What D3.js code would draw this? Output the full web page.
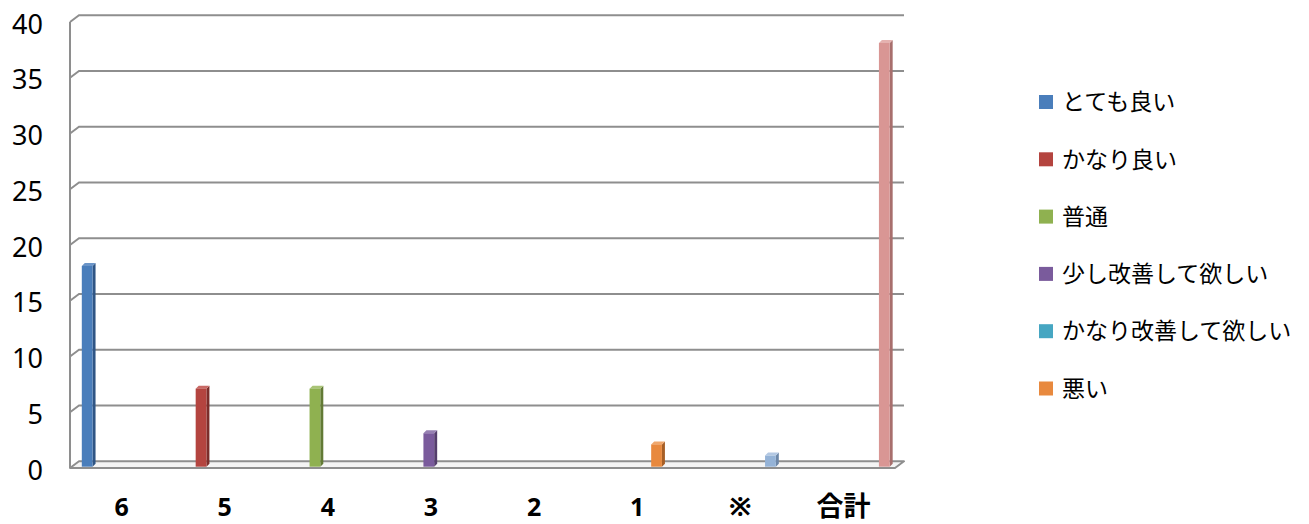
<!DOCTYPE html>
<html>
<head>
<meta charset="utf-8">
<script src="https://cdn.jsdelivr.net/npm/d3@7"></script>
<style>
  html, body { margin: 0; padding: 0; background: #fff; }
  svg { display: block; }
</style>
</head>
<body>
<svg id="chart" width="1309" height="524"></svg>
<script>
// Categories along the floor, one series per category (Excel-style 3D clustered columns)
const categories = ["6", "5", "4", "3", "2", "1", "※", "合計"];
const seriesNames = ["とても良い", "かなり良い", "普通", "少し改善して欲しい", "かなり改善して欲しい", "悪い", "※", "合計"];
const seriesValues = [18, 7, 7, 3, 0, 2, 1, 38];
const legendNames = ["とても良い", "かなり良い", "普通", "少し改善して欲しい", "かなり改善して欲しい", "悪い"];
const yTicks = [0, 5, 10, 15, 20, 25, 30, 35, 40];

const frontColors = ["#4a7ebb", "#b4443f", "#8fb150", "#7a5b9c", "#46a6c2", "#e8893e", "#95b3d7", "#d99694"];
const sideColors  = ["#2f5585", "#7c2d2a", "#627a35", "#543e6c", "#2f7387", "#a75f26", "#6d87a8", "#a86f6d"];
const topColors   = ["#6b95c8", "#c86965", "#a9c476", "#9680b2", "#71bcd2", "#f0a76c", "#b3c8e3", "#e5b2b0"];

const svg = d3.select("#chart");
const font = "'Noto Sans', 'Noto Sans CJK JP', sans-serif";

// Front plane of the plot box and the depth offset of the back wall
const left = 70, right = 895;
const depthX = 9, depthY = -6.7;
const y = d3.scaleLinear().domain([0, 40]).range([468, 22]);
const x0 = d3.scaleBand().domain(categories).range([left, right]).padding(0);
const x1 = d3.scaleBand().domain(seriesNames).range([10, 96]).padding(0);

const gridColor = "#8e8e8e";

// Floor
svg.append("polygon")
  .attr("points", [
    [left, y(0)], [right, y(0)],
    [right + depthX, y(0) + depthY], [left + depthX, y(0) + depthY]
  ].map(p => p.join(",")).join(" "))
  .attr("fill", "#f4f4f4")
  .attr("stroke", gridColor)
  .attr("stroke-width", 2)
  .attr("stroke-linejoin", "round");

// Gridlines on the back wall with the short slant on the side wall
const grid = svg.append("g")
  .attr("fill", "none")
  .attr("stroke", gridColor)
  .attr("stroke-width", 2);
yTicks.filter(t => t > 0).forEach(t => {
  grid.append("path")
    .attr("d", `M${left},${y(t)}L${left + depthX},${y(t) + depthY}L${right + depthX},${y(t) + depthY}`);
});
grid.append("line")
  .attr("x1", left).attr("x2", left)
  .attr("y1", y(40)).attr("y2", y(0));

// Y tick labels
svg.append("g")
  .selectAll("text")
  .data(yTicks)
  .join("text")
  .attr("x", 43)
  .attr("y", d => y(d) + 11.5)
  .attr("text-anchor", "end")
  .attr("font-family", font)
  .attr("font-size", 27)
  .attr("fill", "#000")
  .text(d => d);

// Columns: front face, right side and top
const barDX = 1.8, barDY = -1.3, side = 3;
const bars = svg.append("g");
seriesNames.forEach((name, i) => {
  const v = seriesValues[i];
  if (v <= 0) return;
  const w = x1.bandwidth();
  const xl = x0(categories[i]) + x1(name) + barDX;
  const yb = y(0) + barDY;
  const yt = y(v) + barDY;
  const g = bars.append("g");
  g.append("polygon")
    .attr("points", [[xl + w, yt], [xl + w + side, yt - side], [xl + w + side, yb - side], [xl + w, yb]].map(p => p.join(",")).join(" "))
    .attr("fill", sideColors[i]);
  g.append("polygon")
    .attr("points", [[xl, yt], [xl + side, yt - side], [xl + w + side, yt - side], [xl + w, yt]].map(p => p.join(",")).join(" "))
    .attr("fill", topColors[i]);
  g.append("rect")
    .attr("x", xl).attr("y", yt)
    .attr("width", w).attr("height", yb - yt)
    .attr("fill", frontColors[i]);
});

// Category labels
const isCJK = s => /[^\x00-\x7f]/.test(s);
svg.append("g")
  .selectAll("text")
  .data(categories)
  .join("text")
  .attr("x", d => x0(d) + x0.bandwidth() / 2)
  .attr("y", 516)
  .attr("text-anchor", "middle")
  .attr("font-family", font)
  .attr("font-weight", "bold")
  .attr("font-size", d => isCJK(d) ? 27 : 25)
  .attr("fill", "#000")
  .text(d => d);

// Legend
const legend = svg.append("g");
legendNames.forEach((name, i) => {
  const cy = 102 + i * 57.3;
  legend.append("rect")
    .attr("x", 1039).attr("y", cy - 7)
    .attr("width", 14).attr("height", 14)
    .attr("fill", frontColors[i]);
  legend.append("text")
    .attr("x", 1062).attr("y", cy)
    .attr("dy", "0.36em")
    .attr("font-family", font)
    .attr("font-size", 23)
    .attr("fill", "#000")
    .text(name);
});
</script>
</body>
</html>
